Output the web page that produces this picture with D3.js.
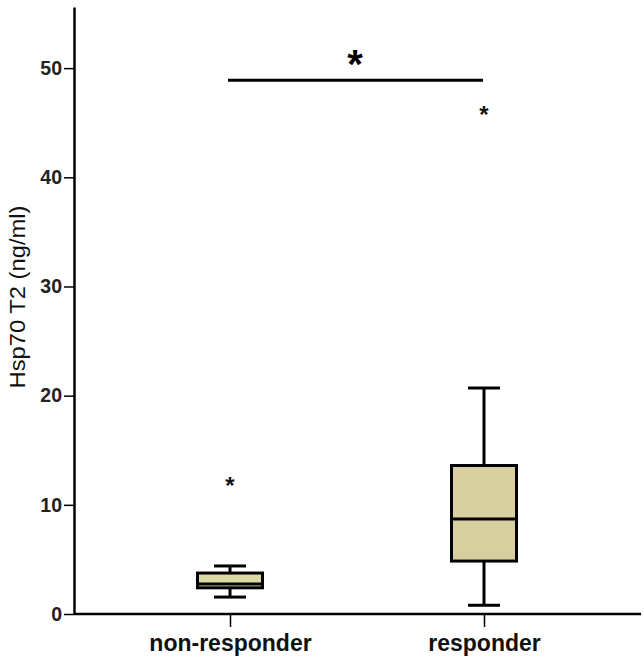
<!DOCTYPE html>
<html>
<head>
<meta charset="utf-8">
<script src="https://cdn.jsdelivr.net/npm/d3@7"></script>
<style>
  body { margin: 0; background: #fff; }
  text { font-family: Arial, "Liberation Sans", sans-serif; }
</style>
</head>
<body>
<div id="chart"></div>
<script>
// Box plot summary values
const categories = ["non-responder", "responder"];
const whiskerLow = [1.55, 0.8];
const q1 = [2.4, 4.85];
const median = [2.75, 8.7];
const q3 = [3.75, 13.6];
const whiskerHigh = [4.4, 20.7];
const outliers = [[12.2], [46.2]];
const yTicks = [0, 10, 20, 30, 40, 50];
const sigLevel = 48.9;

const width = 644, height = 661;
const margin = { top: 7, right: 3, bottom: 47, left: 74 };

const svg = d3.select("#chart")
    .append("svg")
    .attr("width", width)
    .attr("height", height);

// Scales
const y = d3.scaleLinear().domain([0, 55.6]).range([height - margin.bottom, margin.top]);
const x = d3.scalePoint().domain(categories).range([230, 484]);

const boxW = 65, capW = 32;

// Y axis
const yAxis = svg.append("g")
    .attr("transform", `translate(${margin.left},0)`)
    .call(d3.axisLeft(y).tickValues(yTicks).tickSize(10).tickPadding(2).tickSizeOuter(0));
yAxis.select(".domain").attr("stroke", "#000").attr("stroke-width", 2.5);
yAxis.selectAll(".tick line").attr("stroke", "#000").attr("stroke-width", 1.5);
yAxis.selectAll(".tick text")
    .attr("font-size", 19.5).attr("font-weight", "bold").attr("fill", "#222");

// X axis
const xAxis = svg.append("g")
    .attr("transform", `translate(0,${y(0)})`)
    .call(d3.axisBottom(x).tickSize(13).tickPadding(8).tickSizeOuter(0));
xAxis.select(".domain")
    .attr("d", `M${margin.left},0H${width - margin.right}`)
    .attr("stroke", "#000").attr("stroke-width", 2.5);
xAxis.selectAll(".tick line").attr("stroke", "#000").attr("stroke-width", 1.5);
xAxis.selectAll(".tick text")
    .attr("font-size", 23).attr("font-weight", "bold").attr("fill", "#111");

// Y axis title
svg.append("text")
    .attr("transform", `translate(25,297) rotate(-90)`)
    .attr("text-anchor", "middle")
    .attr("font-size", 22)
    .attr("textLength", 183)
    .attr("lengthAdjust", "spacingAndGlyphs")
    .attr("fill", "#111")
    .text("Hsp70 T2 (ng/ml)");

// Boxes
categories.forEach((c, i) => {
    const cx = x(c);
    const g = svg.append("g");

    // whiskers
    g.append("line")
        .attr("x1", cx).attr("x2", cx)
        .attr("y1", y(whiskerLow[i])).attr("y2", y(q1[i]))
        .attr("stroke", "#000").attr("stroke-width", 3);
    g.append("line")
        .attr("x1", cx).attr("x2", cx)
        .attr("y1", y(q3[i])).attr("y2", y(whiskerHigh[i]))
        .attr("stroke", "#000").attr("stroke-width", 3);
    [whiskerLow[i], whiskerHigh[i]].forEach(v => {
        g.append("line")
            .attr("x1", cx - capW / 2).attr("x2", cx + capW / 2)
            .attr("y1", y(v)).attr("y2", y(v))
            .attr("stroke", "#000").attr("stroke-width", 3);
    });

    // box
    g.append("rect")
        .attr("x", cx - boxW / 2)
        .attr("y", y(q3[i]))
        .attr("width", boxW)
        .attr("height", y(q1[i]) - y(q3[i]))
        .attr("fill", i === 0 ? "#dcdaa2" : "#d8cfa0")
        .attr("stroke", "#000")
        .attr("stroke-width", 3);

    // median
    g.append("line")
        .attr("x1", cx - boxW / 2).attr("x2", cx + boxW / 2)
        .attr("y1", y(median[i])).attr("y2", y(median[i]))
        .attr("stroke", "#000").attr("stroke-width", 3);

    // outliers
    outliers[i].forEach(v => {
        g.append("text")
            .attr("x", cx)
            .attr("y", y(v) + 13)
            .attr("text-anchor", "middle")
            .attr("font-size", 24)
            .attr("font-weight", "bold")
            .attr("fill", "#111")
            .text("*");
    });
});

// Significance bar
svg.append("line")
    .attr("x1", x(categories[0]) - 2).attr("x2", x(categories[1]) - 1)
    .attr("y1", y(sigLevel)).attr("y2", y(sigLevel))
    .attr("stroke", "#000").attr("stroke-width", 3);
svg.append("text")
    .attr("x", (x(categories[0]) + x(categories[1])) / 2 - 2)
    .attr("y", y(sigLevel) - 2)
    .attr("text-anchor", "middle")
    .attr("font-size", 40)
    .attr("font-weight", "bold")
    .attr("fill", "#000")
    .text("*");
</script>
</body>
</html>
